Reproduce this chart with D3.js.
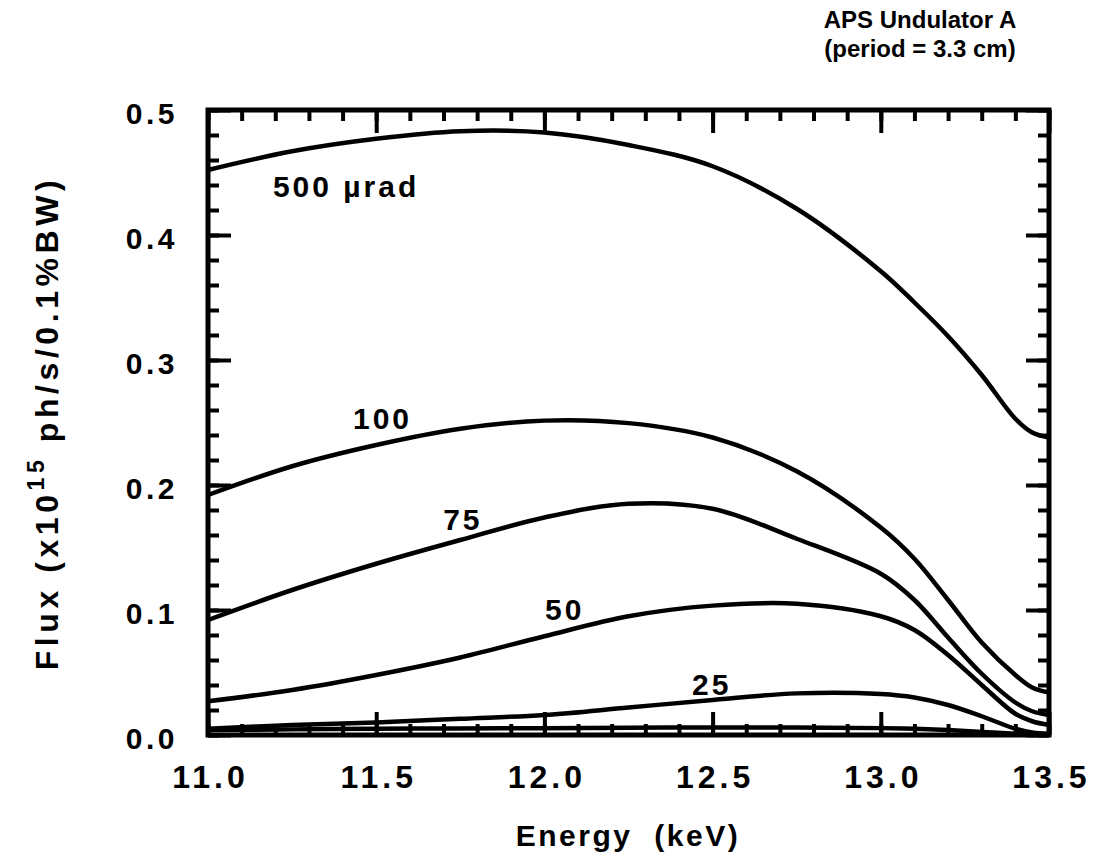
<!DOCTYPE html>
<html>
<head>
<meta charset="utf-8">
<script src="https://cdn.jsdelivr.net/npm/d3@7"></script>
<style>
  html, body { margin: 0; padding: 0; background: #fff; }
  svg { display: block; font-family: "Liberation Sans", Arial, Helvetica, sans-serif; }
</style>
</head>
<body>
<svg id="chart" width="1099" height="857"></svg>
<script>
// Photon energy grid (keV)
const energy = [11.0, 11.25, 11.5, 11.75, 12.0, 12.25, 12.5, 12.75, 13.0, 13.1, 13.2, 13.3, 13.4, 13.45, 13.5];

// Flux through each angular aperture (x10^15 ph/s/0.1%BW)
const flux500 = [0.452, 0.467, 0.477, 0.483, 0.482, 0.472, 0.455, 0.421, 0.371, 0.346, 0.319, 0.288, 0.253, 0.242, 0.238];
const flux100 = [0.192, 0.215, 0.232, 0.245, 0.2515, 0.2495, 0.238, 0.211, 0.166, 0.141, 0.108, 0.074, 0.048, 0.038, 0.034];
const flux75  = [0.092, 0.116, 0.137, 0.156, 0.174, 0.185, 0.181, 0.157, 0.129, 0.108, 0.078, 0.049, 0.026, 0.019, 0.016];
const flux50  = [0.027, 0.036, 0.048, 0.062, 0.079, 0.095, 0.1035, 0.1050, 0.095, 0.084, 0.064, 0.040, 0.017, 0.011, 0.008];
const flux25  = [0.005, 0.008, 0.010, 0.013, 0.016, 0.022, 0.028, 0.0333, 0.0328, 0.030, 0.024, 0.015, 0.005, 0.002, 0.001];
const fluxMin = [0.004, 0.0045, 0.005, 0.0052, 0.0055, 0.0058, 0.006, 0.006, 0.0055, 0.005, 0.004, 0.0025, 0.001, 0.0005, 0.0];

// Curve labels
const curveLabels = ["500 \u00B5rad", "100", "75", "50", "25", ""];
const curveValues = [flux500, flux100, flux75, flux50, flux25, fluxMin];
// Where each label starts, in data units (energy, flux at baseline)
const labelEnergy = [11.193, 11.431, 11.699, 12.002, 12.439, null];
const labelFlux   = [0.4304, 0.2448, 0.164, 0.092, 0.032, null];

// Axis ticks
const xMajorTicks = [11.0, 11.5, 12.0, 12.5, 13.0, 13.5];
const yMajorTicks = [0.0, 0.1, 0.2, 0.3, 0.4, 0.5];

const titleLines = ["APS Undulator A", "(period = 3.3 cm)"];

const svg = d3.select("#chart");
const plot = { left: 208, right: 1049, top: 110, bottom: 735 };

const x = d3.scaleLinear().domain([11.0, 13.5]).range([plot.left, plot.right]);
const y = d3.scaleLinear().domain([0, 0.5]).range([plot.bottom, plot.top]);

const xMinor = d3.range(11.0, 13.5001, 0.1).map(v => +v.toFixed(2));
const yMinor = d3.range(0, 0.5001, 0.02).map(v => +v.toFixed(3));

// spread text to a target width using letter-spacing
function spread(sel, target) {
  sel.each(function () {
    const n = this.getNumberOfChars();
    const len = this.getComputedTextLength();
    const ls = (target - len) / Math.max(1, n - 1);
    d3.select(this).style("letter-spacing", ls + "px");
  });
}

// ---- tick marks (inward on all four sides) ----
function tickAxis(gen, tx, ty) {
  const g = svg.append("g").attr("transform", `translate(${tx},${ty})`).call(gen);
  g.select(".domain").remove();
  g.selectAll(".tick line").attr("stroke", "#000").attr("stroke-width", 4);
  return g;
}
const noLabel = () => "";

// bottom
tickAxis(d3.axisBottom(x).tickValues(xMinor).tickSize(-11).tickFormat(noLabel), 0, plot.bottom);
const xb = tickAxis(d3.axisBottom(x).tickValues(xMajorTicks).tickSize(-23).tickFormat(d3.format(".1f")), 0, plot.bottom);
// top
tickAxis(d3.axisTop(x).tickValues(xMinor).tickSize(-11).tickFormat(noLabel), 0, plot.top);
tickAxis(d3.axisTop(x).tickValues(xMajorTicks).tickSize(-23).tickFormat(noLabel), 0, plot.top);
// left
tickAxis(d3.axisLeft(y).tickValues(yMinor).tickSize(-11).tickFormat(noLabel), plot.left, 0);
const yl = tickAxis(d3.axisLeft(y).tickValues(yMajorTicks).tickSize(-23).tickFormat(d3.format(".1f")), plot.left, 0);
// right
tickAxis(d3.axisRight(y).tickValues(yMinor).tickSize(-11).tickFormat(noLabel), plot.right, 0);
tickAxis(d3.axisRight(y).tickValues(yMajorTicks).tickSize(-23).tickFormat(noLabel), plot.right, 0);

// tick label styling
xb.selectAll(".tick text")
  .attr("y", 53).attr("dy", null)
  .attr("fill", "#000")
  .style("font-size", "32px").style("font-weight", "bold")
  .style("letter-spacing", "4px")
  .attr("dx", 2)
  .style("font-family", "'Liberation Sans', Arial, sans-serif");

yl.selectAll(".tick text")
  .attr("x", -30).attr("dy", 13)
  .attr("fill", "#000")
  .style("font-size", "30px").style("font-weight", "bold")
  .style("letter-spacing", "3.5px")
  .style("font-family", "'Liberation Sans', Arial, sans-serif");

// ---- frame ----
svg.append("rect")
  .attr("x", plot.left).attr("y", plot.top)
  .attr("width", plot.right - plot.left).attr("height", plot.bottom - plot.top)
  .attr("fill", "none").attr("stroke", "#000").attr("stroke-width", 5);

// ---- curves ----
const line = d3.line()
  .x((d, i) => x(energy[i]))
  .y(d => y(d))
  .curve(d3.curveCatmullRom.alpha(0.5));

svg.append("g").selectAll("path")
  .data(curveValues)
  .join("path")
  .attr("d", line)
  .attr("fill", "none")
  .attr("stroke", "#000")
  .attr("stroke-width", 4.5)
  .attr("stroke-linejoin", "round");

// ---- curve labels ----
const labG = svg.append("g")
  .style("font-size", "30px").style("font-weight", "bold").attr("fill", "#000");
curveLabels.forEach((t, i) => {
  if (!t) return;
  labG.append("text")
    .attr("x", x(labelEnergy[i]))
    .attr("y", y(labelFlux[i]))
    .style("letter-spacing", "3px")
    .attr("xml:space", "preserve")
    .text(t);
});

// ---- axis titles ----
svg.append("text")
  .attr("x", 628).attr("y", 846)
  .attr("text-anchor", "middle")
  .style("font-size", "30px").style("font-weight", "bold")
  .attr("xml:space", "preserve")
  .text("Energy  (keV)")
  .call(spread, 222);

const yt = svg.append("text")
  .attr("transform", "translate(58,423) rotate(-90)")
  .attr("text-anchor", "middle")
  .style("font-size", "32px").style("font-weight", "bold");
yt.append("tspan").text("Flux (x10");
yt.append("tspan").attr("dy", -14).style("font-size", "23px").text("15");
yt.append("tspan").attr("dy", 14).text(" ph/s/0.1%BW)");
yt.call(spread, 490);

// ---- title ----
const tt = svg.append("g").style("font-size", "24px").style("font-weight", "bold");
titleLines.forEach((t, i) => {
  tt.append("text")
    .attr("x", 920).attr("y", 28 + i * 29)
    .attr("text-anchor", "middle")
    .text(t);
});
</script>
</body>
</html>
